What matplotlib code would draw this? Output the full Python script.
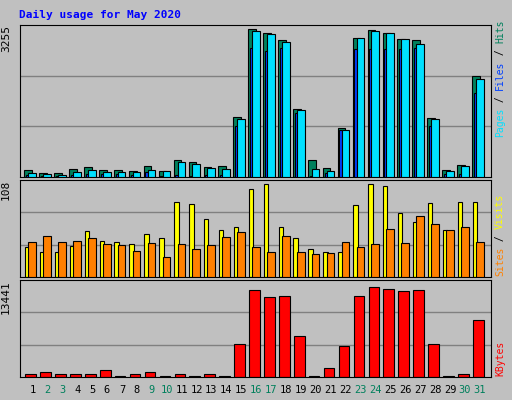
import numpy as np
import matplotlib
matplotlib.use("Agg")
import matplotlib.pyplot as plt
from matplotlib.patches import Rectangle

days = np.arange(1, 32)
weekend = [2, 3, 9, 10, 16, 17, 23, 24, 30, 31]

hits = [151, 86, 86, 172, 216, 151, 151, 129, 237, 129, 366, 323, 216, 237, 1293, 3176,
        3083, 2932, 1466, 366, 194, 1056, 2975, 3154, 3083, 2953, 2932, 1272, 151, 259, 2156]
files = [86, 65, 50, 108, 151, 108, 108, 108, 151, 129, 323, 280, 194, 172, 1250, 3126,
         3061, 2889, 1444, 172, 129, 1013, 2975, 3126, 3083, 2953, 2845, 1250, 129, 237, 2091]
pages = [50, 29, 14, 50, 65, 65, 65, 50, 100, 14, 50, 14, 50, 50, 1099, 2759,
         2694, 2759, 1380, 14, 86, 1013, 2738, 2738, 2738, 2738, 2759, 1099, 65, 65, 1789]
visits = [33, 28, 28, 34, 51, 40, 39, 37, 48, 43, 83, 81, 65, 52, 56, 98,
          103, 56, 43, 31, 28, 28, 80, 103, 101, 71, 61, 82, 52, 83, 83]
sites = [39, 46, 39, 40, 43, 37, 36, 29, 38, 22, 37, 31, 36, 45, 50, 33,
         28, 46, 28, 26, 27, 39, 33, 37, 53, 38, 68, 59, 52, 56, 39]
kbytes = [362, 634, 362, 362, 362, 905, 181, 362, 634, 181, 362, 181, 362, 181, 4571, 12038,
          11088, 11224, 5657, 181, 1312, 4299, 11224, 12445, 12174, 11902, 12038, 4571, 181, 362, 7965]
max_hits, max_visits, max_kb = 3255, 108, 13441

BG = "#C0C0C0"
W, H = 512, 400
fig = plt.figure(figsize=(W / 100, H / 100), dpi=100, facecolor=BG)
mono = "DejaVu Sans Mono"


def px_axes(x0, y0, x1, y1):
    return fig.add_axes([x0 / W, 1 - y1 / H, (x1 - x0) / W, (y1 - y0) / H])


def bars(ax, vals, lo, hi, color, z):
    for d, v in zip(days, vals):
        ax.add_patch(Rectangle((d + lo, 0), hi - lo, v, facecolor=color,
                               edgecolor="black", linewidth=0.8, zorder=z))


def setup(ax, top, label):
    ax.set_facecolor(BG)
    ax.set_xlim(0.17, 31.74)
    ax.set_ylim(0, top)
    ax.set_xticks([])
    ax.set_yticks([])
    for f in (1 / 3, 2 / 3):
        ax.axhline(top * f, color="#808080", linewidth=1, zorder=0)
    for s in ax.spines.values():
        s.set_color("black")
    ax.text(-0.03, 1.0, label, transform=ax.transAxes, rotation=90, ha="center",
            va="top", fontsize=8, family=mono)


def side_label(x, ybottom, parts):
    step = 5.85
    y = ybottom
    for txt, col in parts:
        fig.text(x / W, 1 - y / H, txt, rotation=90, ha="center", va="bottom",
                 fontsize=7, family=mono, color=col)
        y -= step * len(txt)


ax1 = px_axes(20, 25, 491, 177)
setup(ax1, max_hits, str(max_hits))
bars(ax1, hits, -0.53, -0.02, "#00805C", 2)
bars(ax1, pages, -0.42, -0.22, "#0040FF", 3)
bars(ax1, files, -0.27, 0.24, "#00E0FF", 4)

ax2 = px_axes(20, 180, 491, 277)
setup(ax2, max_visits, str(max_visits))
bars(ax2, visits, -0.5, -0.2, "#FFFF00", 2)
bars(ax2, sites, -0.27, 0.24, "#FF8000", 3)

ax3 = px_axes(20, 280, 491, 377)
setup(ax3, max_kb, str(max_kb))
bars(ax3, kbytes, -0.47, 0.24, "#FF0000", 2)

for d in days:
    ax3.text(d, -0.13, str(d), transform=ax3.get_xaxis_transform(), ha="center",
             va="center", fontsize=7.5, family=mono,
             color="#00805C" if d in weekend else "black")

fig.text(19 / W, 1 - 15 / H, "Daily usage for May 2020", fontsize=8, family=mono,
         weight="bold", color="#0000FF", va="center")

side_label(500, 137, [("Pages", "#00E0FF"), (" / ", "#000000"), ("Files", "#0040FF"),
                      (" / ", "#000000"), ("Hits", "#00805C")])
side_label(500, 276, [("Sites", "#FF8000"), (" / ", "#000000"), ("Visits", "#FFFF00")])
side_label(500, 376, [("KBytes", "#FF0000")])

fig.savefig("out.png", dpi=100, facecolor=BG)
